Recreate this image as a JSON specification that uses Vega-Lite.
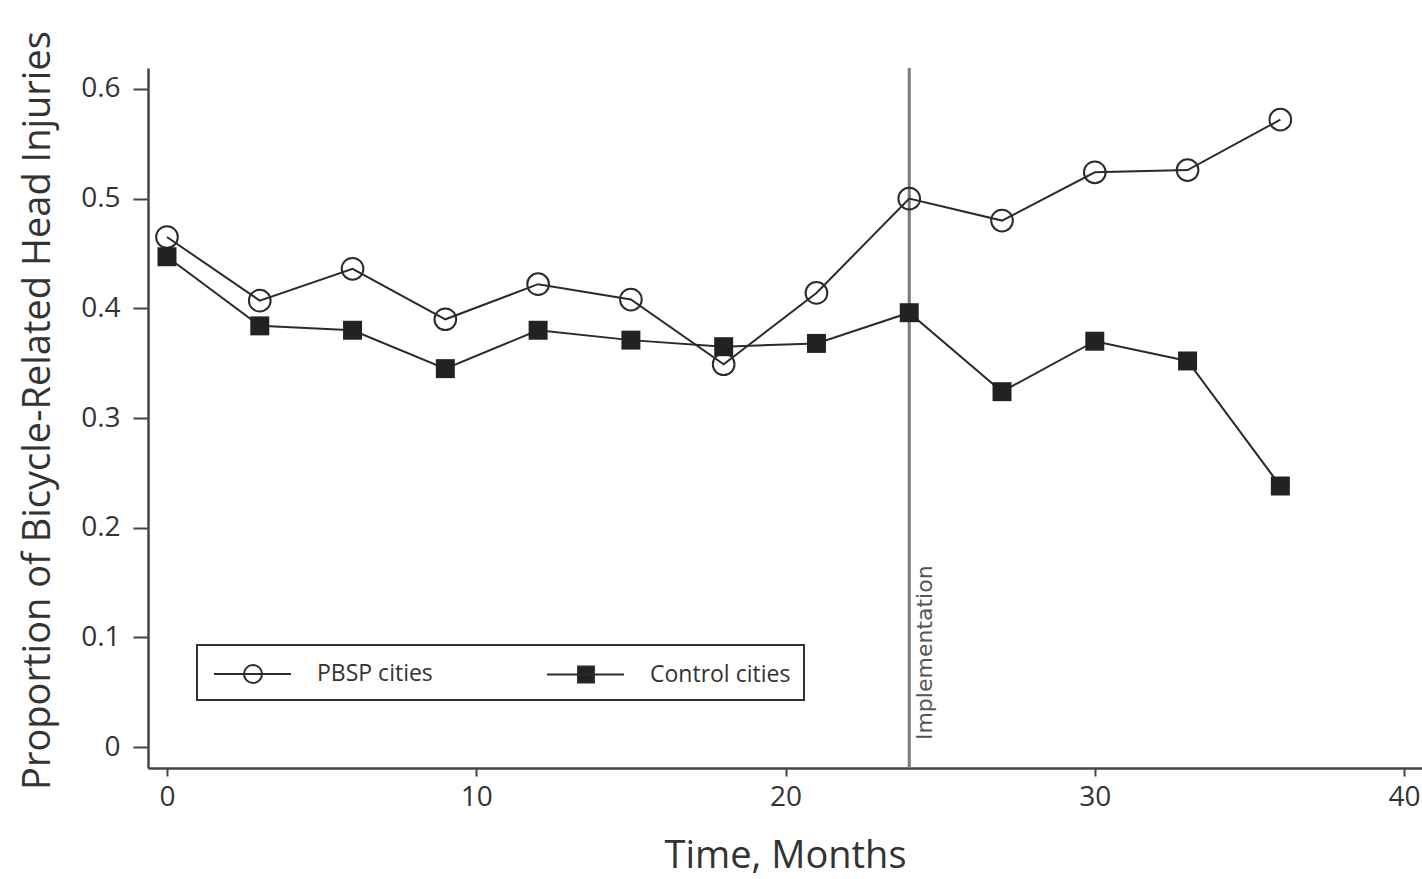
{
  "$schema": "https://vega.github.io/schema/vega-lite/v6.json",
  "width": 1274,
  "height": 700,
  "autosize": {"type": "none"},
  "padding": {"left": 148, "top": 68, "right": 0, "bottom": 111},
  "background": "white",
  "config": {"view": {"stroke": null}, "font": "Open Sans", "legend": {"strokeWidth": 2}},
  "datasets": {
    "series": [
      {"month": 0, "proportion": 0.465, "group": "PBSP cities"},
      {"month": 3, "proportion": 0.407, "group": "PBSP cities"},
      {"month": 6, "proportion": 0.436, "group": "PBSP cities"},
      {"month": 9, "proportion": 0.390, "group": "PBSP cities"},
      {"month": 12, "proportion": 0.422, "group": "PBSP cities"},
      {"month": 15, "proportion": 0.408, "group": "PBSP cities"},
      {"month": 18, "proportion": 0.349, "group": "PBSP cities"},
      {"month": 21, "proportion": 0.414, "group": "PBSP cities"},
      {"month": 24, "proportion": 0.500, "group": "PBSP cities"},
      {"month": 27, "proportion": 0.480, "group": "PBSP cities"},
      {"month": 30, "proportion": 0.524, "group": "PBSP cities"},
      {"month": 33, "proportion": 0.526, "group": "PBSP cities"},
      {"month": 36, "proportion": 0.572, "group": "PBSP cities"},
      {"month": 0, "proportion": 0.447, "group": "Control cities"},
      {"month": 3, "proportion": 0.384, "group": "Control cities"},
      {"month": 6, "proportion": 0.380, "group": "Control cities"},
      {"month": 9, "proportion": 0.345, "group": "Control cities"},
      {"month": 12, "proportion": 0.380, "group": "Control cities"},
      {"month": 15, "proportion": 0.371, "group": "Control cities"},
      {"month": 18, "proportion": 0.365, "group": "Control cities"},
      {"month": 21, "proportion": 0.368, "group": "Control cities"},
      {"month": 24, "proportion": 0.396, "group": "Control cities"},
      {"month": 27, "proportion": 0.324, "group": "Control cities"},
      {"month": 30, "proportion": 0.370, "group": "Control cities"},
      {"month": 33, "proportion": 0.352, "group": "Control cities"},
      {"month": 36, "proportion": 0.238, "group": "Control cities"}
    ],
    "impl": [{"month": 24, "label": "Implementation"}]
  },
  "layer": [
    {
      "data": {"name": "impl"},
      "mark": {"type": "rule", "color": "#7a7a7a", "strokeWidth": 3},
      "encoding": {
        "x": {"field": "month", "type": "quantitative", "scale": {"domain": [-0.614, 40.58], "nice": false, "zero": false}}
      }
    },
    {
      "data": {"name": "impl"},
      "mark": {"type": "text", "angle": 270, "align": "left", "baseline": "middle", "dx": 7, "dy": 16, "fontSize": 22, "color": "#555", "font": "DejaVu Sans"},
      "encoding": {
        "x": {"field": "month", "type": "quantitative"},
        "y": {"datum": 0, "type": "quantitative"},
        "text": {"field": "label"}
      }
    },
    {
      "data": {"name": "series"},
      "mark": {"type": "line", "color": "#2b2b2b", "strokeWidth": 2},
      "encoding": {
        "x": {"field": "month", "type": "quantitative"},
        "y": {"field": "proportion", "type": "quantitative"},
        "detail": {"field": "group"}
      }
    },
    {
      "data": {"name": "series"},
      "transform": [{"filter": "datum.group === 'PBSP cities'"}],
      "mark": {"type": "point", "shape": "circle", "filled": false, "stroke": "#2b2b2b", "strokeWidth": 2, "opacity": 1, "size": 470},
      "encoding": {
        "x": {"field": "month", "type": "quantitative"},
        "y": {"field": "proportion", "type": "quantitative"}
      }
    },
    {
      "data": {"name": "series"},
      "transform": [{"filter": "datum.group === 'Control cities'"}],
      "mark": {"type": "point", "shape": "square", "filled": true, "color": "#222222", "opacity": 1, "size": 360},
      "encoding": {
        "x": {"field": "month", "type": "quantitative"},
        "y": {"field": "proportion", "type": "quantitative"}
      }
    },
    {
      "data": {"name": "series"},
      "mark": {"type": "point", "filled": true, "opacity": 0, "strokeWidth": 2, "size": 400},
      "encoding": {
        "x": {
          "field": "month", "type": "quantitative",
          "scale": {"domain": [-0.614, 40.58], "nice": false, "zero": false},
          "axis": {
            "values": [0, 10, 20, 30, 40],
            "title": "Time, Months",
            "domainColor": "#444", "domainWidth": 2.5,
            "tickColor": "#444", "tickWidth": 2, "tickSize": 8,
            "labelFontSize": 28, "labelColor": "#333", "labelPadding": 7,
            "titleFontSize": 38, "titleFontWeight": "normal", "titleColor": "#333",
            "titleX": 637, "titleY": 88, "titleAnchor": null, "titleAlign": "center", "titleBaseline": "middle",
            "grid": false
          }
        },
        "y": {
          "field": "proportion", "type": "quantitative",
          "scale": {"domain": [-0.0191, 0.6191], "nice": false, "zero": false},
          "axis": {
            "values": [0, 0.1, 0.2, 0.3, 0.4, 0.5, 0.6],
            "format": ".1~f",
            "title": "Proportion of Bicycle-Related Head Injuries",
            "domainColor": "#444", "domainWidth": 2.5,
            "tickColor": "#444", "tickWidth": 2, "tickSize": 15,
            "labelFontSize": 28, "labelColor": "#333", "labelPadding": 13,
            "titleFontSize": 38, "titleFontWeight": "normal", "titleColor": "#333",
            "titleX": -110, "titleY": 342, "titleAnchor": null, "titleAlign": "center", "titleBaseline": "middle", "titleAngle": 270,
            "grid": false
          }
        },
        "shape": {
          "field": "group", "type": "nominal",
          "scale": {"domain": ["PBSP cities", "Control cities"], "range": ["M-0.8,0H4.33M1.2,0A0.6,0.6 0 1,0 2.4,0A0.6,0.6 0 1,0 1.2,0", "M-0.8,0H4.33M1.27,-0.53H2.33V0.53H1.27Z"]},
          "legend": {
            "orient": "none", "legendX": 49, "legendY": 577,
            "direction": "horizontal", "columns": 2, "title": null,
            "strokeColor": "#333", "padding": 13,
            "symbolSize": 900, "symbolStrokeWidth": 2, "symbolStrokeColor": "#2b2b2b", "symbolOpacity": 1,
            "labelFontSize": 23, "labelColor": "#333",
            "labelOffset": 75, "columnPadding": 110
          }
        },
        "fill": {
          "field": "group", "type": "nominal",
          "scale": {"domain": ["PBSP cities", "Control cities"], "range": ["transparent", "#222222"]},
          "legend": {
            "orient": "none", "legendX": 49, "legendY": 577,
            "direction": "horizontal", "columns": 2, "title": null,
            "strokeColor": "#333", "padding": 13,
            "symbolSize": 900, "symbolStrokeWidth": 2, "symbolStrokeColor": "#2b2b2b", "symbolOpacity": 1,
            "labelFontSize": 23, "labelColor": "#333",
            "labelOffset": 75, "columnPadding": 110
          }
        },
        "stroke": {
          "field": "group", "type": "nominal",
          "scale": {"domain": ["PBSP cities", "Control cities"], "range": ["#2b2b2b", "#2b2b2b"]},
          "legend": {
            "orient": "none", "legendX": 49, "legendY": 577,
            "direction": "horizontal", "columns": 2, "title": null,
            "strokeColor": "#333", "padding": 13,
            "symbolSize": 900, "symbolStrokeWidth": 2, "symbolStrokeColor": "#2b2b2b", "symbolOpacity": 1,
            "labelFontSize": 23, "labelColor": "#333",
            "labelOffset": 75, "columnPadding": 110
          }
        }
      }
    }
  ]
}
